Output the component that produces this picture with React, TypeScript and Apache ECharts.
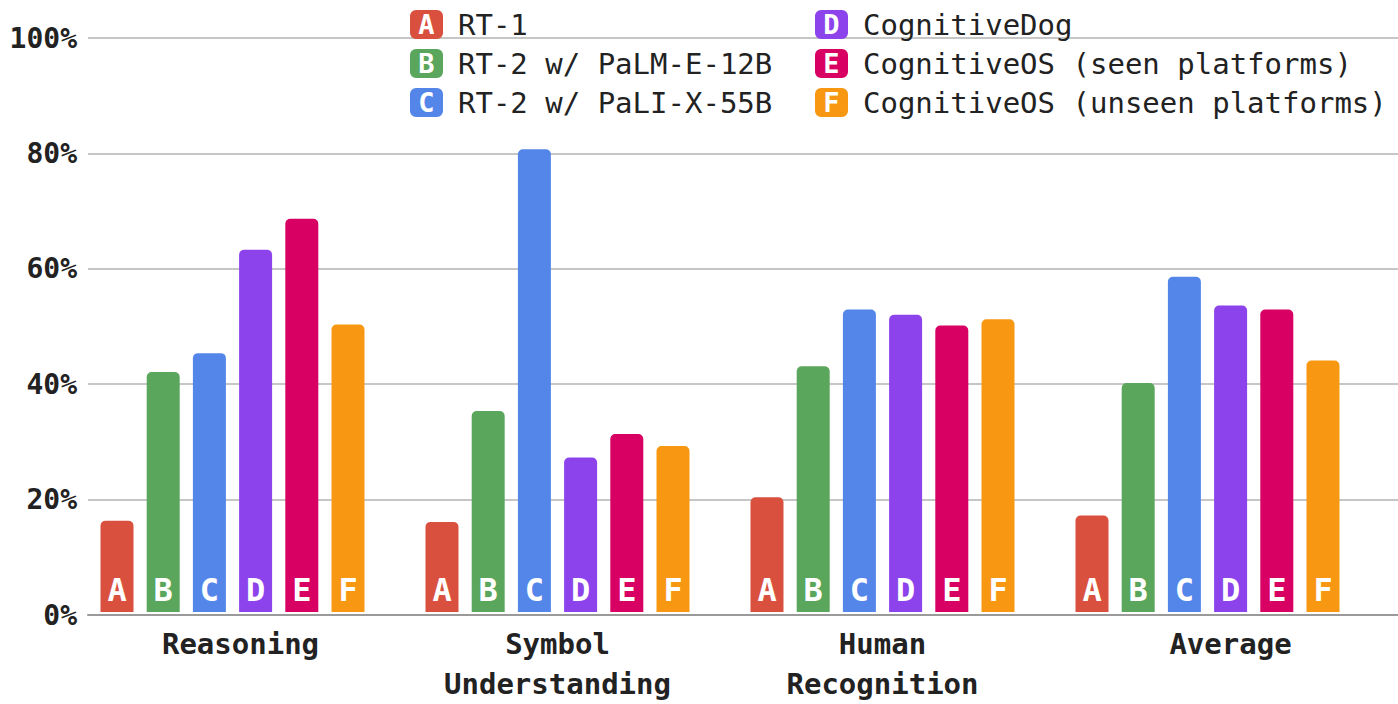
import React, { useEffect, useRef } from "react";
import * as echarts from "echarts";

const categories = ["Reasoning", "Symbol\nUnderstanding", "Human\nRecognition", "Average"];
const seriesNames = [
  "RT-1",
  "RT-2 w/ PaLM-E-12B",
  "RT-2 w/ PaLI-X-55B",
  "CognitiveDog",
  "CognitiveOS (seen platforms)",
  "CognitiveOS (unseen platforms)",
];
const seriesLetters = ["A", "B", "C", "D", "E", "F"];
const seriesColors = ["#D9503F", "#59A65C", "#5486EA", "#8D43EB", "#D80063", "#F89812"];

const rt1 = [15.9, 15.7, 20, 16.8];
const rt2Palm = [41.8, 35, 42.8, 39.9];
const rt2Pali = [45.1, 80.6, 52.7, 58.4];
const cognitiveDog = [63.1, 26.9, 51.8, 53.4];
const cosSeen = [68.5, 31, 49.9, 52.7];
const cosUnseen = [50.1, 28.9, 51, 43.8];
const seriesValues = [rt1, rt2Palm, rt2Pali, cognitiveDog, cosSeen, cosUnseen];

const yMin = 0;
const yMax = 100;
const yStep = 20;

const MONO = "DejaVu Sans Mono";

export default function App() {
  const ref = useRef<HTMLDivElement>(null);
  useEffect(() => {
    if (!ref.current) return;
    document.body.style.margin = "0";
    const chart = echarts.init(ref.current, undefined, { renderer: "svg" });

    const rich: Record<string, any> = {
      t: { fontFamily: MONO, fontSize: 29, color: "#222", padding: [0, 0, 0, 15] },
    };
    seriesLetters.forEach((l, i) => {
      rich["i" + l] = {
        backgroundColor: seriesColors[i],
        color: "#fff",
        fontFamily: MONO,
        fontWeight: "bold",
        fontSize: 27,
        width: 27,
        align: "center",
        padding: [1, 3, 1, 3],
        borderRadius: 6,
        lineHeight: 30,
      };
    });
    const legendFormatter = (name: string) => {
      const i = seriesNames.indexOf(name);
      return `{i${seriesLetters[i]}|${seriesLetters[i]}}{t|${name}}`;
    };

    const labelFont = {
      fontFamily: MONO,
      fontWeight: "bold",
      fontSize: 29,
      color: "#222",
      lineHeight: 40,
    };

    const gridTop = 38;
    const gridBottom = 89;

    chart.setOption({
      animation: false,
      backgroundColor: "#fff",
      legend: [
        {
          data: seriesNames.slice(0, 3),
          orient: "vertical",
          left: 400,
          top: 5,
          icon: "none",
          itemWidth: 0,
          itemHeight: 0,
          itemGap: 10,
          formatter: legendFormatter,
          textStyle: { rich },
          selectedMode: false,
        },
        {
          data: seriesNames.slice(3),
          orient: "vertical",
          left: 805,
          top: 5,
          icon: "none",
          itemWidth: 0,
          itemHeight: 0,
          itemGap: 10,
          formatter: legendFormatter,
          textStyle: { rich },
          selectedMode: false,
        },
      ],
      grid: [
        { left: 88, right: 0, top: gridTop, bottom: gridBottom },
        { left: 70, right: 28, top: gridTop, bottom: gridBottom },
      ],
      xAxis: [
        {
          gridIndex: 0,
          type: "value",
          min: 0,
          max: 1,
          axisLine: { show: true, lineStyle: { color: "#9a9a9a", width: 2 } },
          axisTick: { show: false },
          axisLabel: { show: false },
          splitLine: { show: false },
        },
        {
          gridIndex: 1,
          type: "category",
          data: categories,
          axisLine: { show: false },
          axisTick: { show: false },
          axisLabel: {
            ...labelFont,
            margin: 12,
            interval: 0,
            formatter: (v: string) => {
              if (v === "Reasoning") return `{r|${v}}`;
              if (v === "Average") return `{a|${v}}`;
              return v;
            },
            rich: {
              r: { ...labelFont, padding: [0, 0, 0, 16] },
              a: { ...labelFont, padding: [0, 0, 0, 46] },
            },
          },
        },
      ],
      yAxis: [
        {
          gridIndex: 0,
          type: "value",
          min: yMin,
          max: yMax,
          interval: yStep,
          axisLine: { show: false },
          axisTick: { show: false },
          axisLabel: {
            formatter: "{value}%",
            fontFamily: MONO,
            fontWeight: "bold",
            fontSize: 28,
            color: "#222",
            margin: 11,
          },
          splitLine: { lineStyle: { color: "#c6c6c6", width: 2 } },
        },
        {
          gridIndex: 1,
          type: "value",
          min: yMin,
          max: yMax,
          interval: yStep,
          show: false,
          splitLine: { show: false },
        },
      ],
      series: seriesNames.map((name, i) => ({
        name,
        type: "bar",
        xAxisIndex: 1,
        yAxisIndex: 1,
        data: seriesValues[i],
        barWidth: 33,
        barGap: "40%",
        itemStyle: { color: seriesColors[i], borderRadius: [5, 5, 0, 0] },
        label: {
          show: true,
          position: "insideBottom",
          distance: 6,
          formatter: seriesLetters[i],
          color: "#fff",
          fontFamily: MONO,
          fontWeight: "bold",
          fontSize: 32,
        },
      })),
    });
    return () => chart.dispose();
  }, []);
  return <div ref={ref} style={{ width: 1398, height: 704 }} />;
}
